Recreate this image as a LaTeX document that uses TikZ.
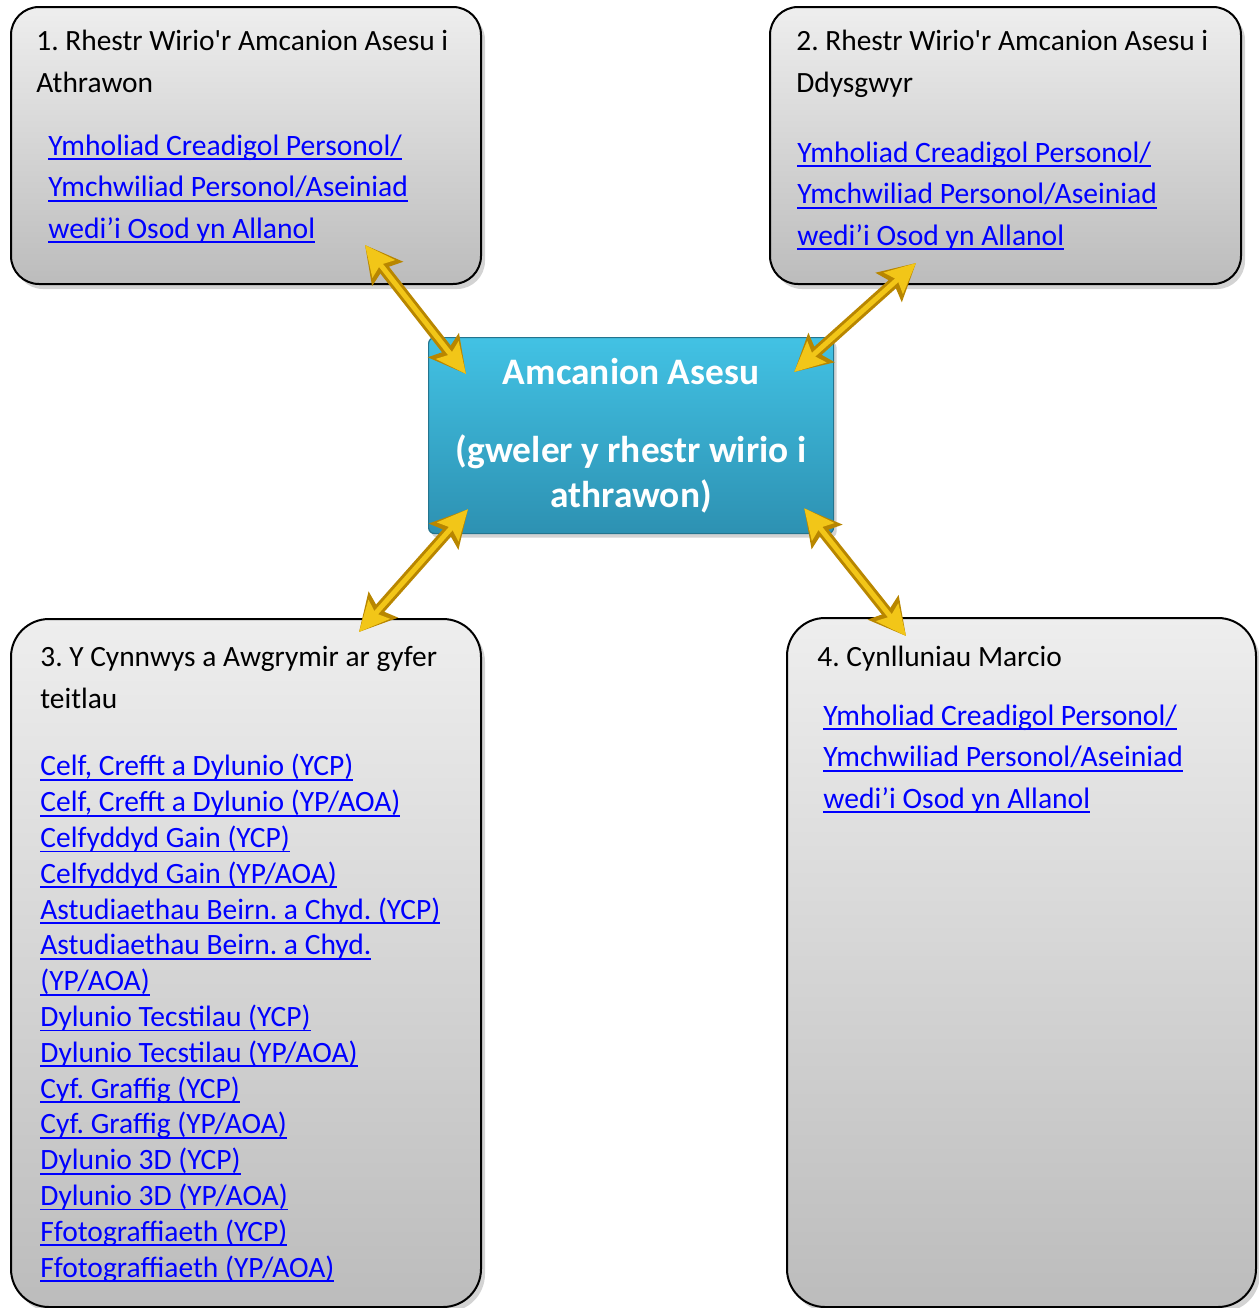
\documentclass[tikz,border=0pt]{standalone}
\usepackage{fontspec}
\setmainfont{Carlito}
\usetikzlibrary{arrows.meta,shadows}
\frenchspacing
\newsavebox{\lnkbox}
\newcommand{\lnk}[1]{\leavevmode\sbox{\lnkbox}{#1}\rlap{\vrule height -1.6pt depth 2.5pt width \wd\lnkbox}\usebox{\lnkbox}}
\definecolor{linkblue}{RGB}{0,0,255}
\definecolor{goldlight}{RGB}{242,198,24}
\definecolor{golddark}{RGB}{184,134,0}
\definecolor{boxtop}{RGB}{238,238,238}
\definecolor{boxbot}{RGB}{188,188,188}
\definecolor{aimtop}{RGB}{66,194,228}
\definecolor{aimbot}{RGB}{45,145,178}
\begin{document}
\begin{tikzpicture}[x=0.5pt,y=-0.5pt,
 panel/.style={draw=black,line width=1pt,top color=boxtop,bottom color=boxbot,inner sep=0pt,anchor=north west,
   drop shadow={shadow xshift=2pt,shadow yshift=-2.5pt,opacity=0.35}},
 aimbox/.style={draw=aimbot!80!black,line width=0.6pt,rounded corners=3pt,top color=aimtop,bottom color=aimbot,
   minimum width=202.5pt,minimum height=98pt,inner sep=0pt,anchor=north west,text=white,align=center,
   font=\fontsize{18.7}{22.5}\selectfont\bfseries,drop shadow={shadow xshift=1.5pt,shadow yshift=-2pt,opacity=0.35}},
 title/.style={inner sep=0pt,anchor=base west,align=left,font=\fontsize{14.7}{21}\selectfont},
 link/.style={inner sep=0pt,anchor=base west,align=left,text=linkblue,font=\fontsize{14.8}{20.75}\selectfont},
 listlink/.style={inner sep=0pt,anchor=base west,align=left,text=linkblue,font=\fontsize{14.75}{17.9}\selectfont},
 goldout/.style={draw=golddark,fill=golddark,line width=5.5pt,>={Stealth[length=18pt,width=19pt,inset=3pt]},<->},
 goldin/.style={draw=goldlight,fill=goldlight,line width=2.5pt,>={Stealth[length=15pt,width=14pt,inset=2.5pt]},<->}]
 \useasboundingbox (0,0) rectangle (1259,1308);
 \node[panel,rounded corners=14pt,minimum width=235pt,minimum height=138.5pt] (b1) at (10,6) {};
 \node[panel,rounded corners=14pt,minimum width=235.5pt,minimum height=138.5pt] (b2) at (769,6) {};
 \node[panel,rounded corners=19pt,minimum width=235pt,minimum height=344pt] (b3) at (10,618) {};
 \node[panel,rounded corners=19pt,minimum width=234.5pt,minimum height=344.5pt] (b4) at (786,617) {};
 \node[aimbox] (aim) at (428,337) {Amcanion Asesu\\[16.5pt](gweler y rhestr wirio i\\athrawon)};
 \node[title] (t1) at (36,92) {1. Rhestr Wirio\textquotesingle r Amcanion Asesu i\\Athrawon};
 \node[link] (l1) at (48,238) {\lnk{Ymholiad Creadigol Personol/}\\\lnk{Ymchwiliad Personol/Aseiniad}\\\lnk{wedi’i Osod yn Allanol}};
 \node[title] (t2) at (796,92) {2. Rhestr Wirio\textquotesingle r Amcanion Asesu i\\Ddysgwyr};
 \node[link] (l2) at (797,245) {\lnk{Ymholiad Creadigol Personol/}\\\lnk{Ymchwiliad Personol/Aseiniad}\\\lnk{wedi’i Osod yn Allanol}};
 \node[title] (t3) at (40,708) {3. Y Cynnwys a Awgrymir ar gyfer\\teitlau};
 \node[listlink] (l3) at (40,1277) {\lnk{Celf, Crefft a Dylunio (YCP)}\\\lnk{Celf, Crefft a Dylunio (YP/AOA)}\\\lnk{Celfyddyd Gain (YCP)}\\\lnk{Celfyddyd Gain (YP/AOA)}\\\lnk{Astudiaethau Beirn. a Chyd. (YCP)}\\\lnk{Astudiaethau Beirn. a Chyd.}\\\lnk{(YP/AOA)}\\\lnk{Dylunio Tecstilau (YCP)}\\\lnk{Dylunio Tecstilau (YP/AOA)}\\\lnk{Cyf. Graffig (YCP)}\\\lnk{Cyf. Graffig (YP/AOA)}\\\lnk{Dylunio 3D (YCP)}\\\lnk{Dylunio 3D (YP/AOA)}\\\lnk{Ffotograffiaeth (YCP)}\\\lnk{Ffotograffiaeth (YP/AOA)}};
 \node[title] (t4) at (817,666) {4. Cynlluniau Marcio};
 \node[link] (l4) at (823,808) {\lnk{Ymholiad Creadigol Personol/}\\\lnk{Ymchwiliad Personol/Aseiniad}\\\lnk{wedi’i Osod yn Allanol}};
 \draw[goldout] ([shift={(-117,-40)}]b1.south east) -- ([shift={(38,37)}]aim.north west);
 \draw[goldin] ([shift={(-117,-40)}]b1.south east) -- ([shift={(38,37)}]aim.north west);
 \draw[goldout] ([shift={(147,-22)}]b2.south west) -- ([shift={(-40,35)}]aim.north east);
 \draw[goldin] ([shift={(147,-22)}]b2.south west) -- ([shift={(-40,35)}]aim.north east);
 \draw[goldout] ([shift={(40,-25)}]aim.south west) -- ([shift={(-123,14)}]b3.north east);
 \draw[goldin] ([shift={(40,-25)}]aim.south west) -- ([shift={(-123,14)}]b3.north east);
 \draw[goldout] ([shift={(-30,-26)}]aim.south east) -- ([shift={(120,19)}]b4.north west);
 \draw[goldin] ([shift={(-30,-26)}]aim.south east) -- ([shift={(120,19)}]b4.north west);
\end{tikzpicture}
\end{document}
